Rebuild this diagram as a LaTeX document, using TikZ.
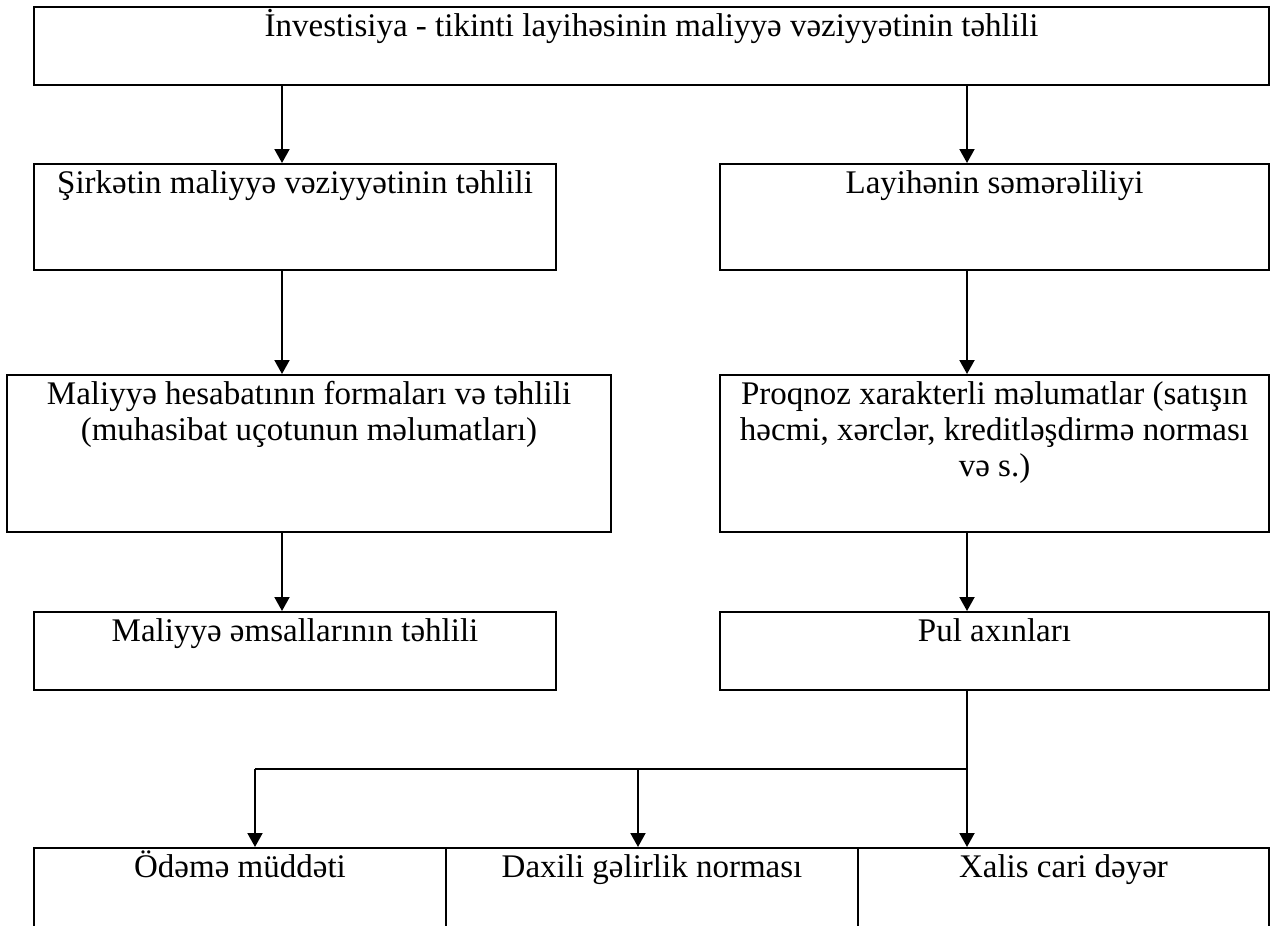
\documentclass[tikz,border=0pt]{standalone}
\usepackage{fontspec}
\setmainfont{Liberation Serif}
\usetikzlibrary{arrows.meta,positioning,fit}
\newcommand{\tstrut}{\rule{0pt}{15pt}}

\begin{document}
\begin{tikzpicture}[x=0.5pt, y=-0.5pt,
    box/.style={draw, line width=1pt, inner sep=0pt},
    txt/.style={anchor=north, align=center, inner sep=0pt, font=\fontsize{16.5}{18}\selectfont},
    arr/.style={line width=1pt, -{Triangle[width=7.5pt,length=7pt]}}]
    \clip (0,0) rectangle (1281,926);
    \coordinate (colL) at (282,0);
    \coordinate (colR) at (967,0);
    \node [box, fit={(34,7) (1269,85)}] (main) {};
    \node [box, fit={(34,164) (556,270)}] (firm) {};
    \node [box, fit={(720,164) (1269,270)}] (eff) {};
    \node [box, fit={(7,375) (611,532)}] (report) {};
    \node [box, fit={(720,375) (1269,532)}] (forecast) {};
    \node [box, fit={(34,612) (556,690)}] (ratios) {};
    \node [box, fit={(720,612) (1269,690)}] (cash) {};
    \node [box, fit={(34,848) (446,960)}] (payback) {};
    \node [box, fit={(446,848) (858,960)}] (irr) {};
    \node [box, fit={(858,848) (1269,960)}] (npv) {};
    \node [txt] (main-t) at (main.north) {\tstrut İnvestisiya - tikinti layihəsinin maliyyə vəziyyətinin təhlili};
    \node [txt] (firm-t) at (firm.north) {\tstrut Şirkətin maliyyə vəziyyətinin təhlili};
    \node [txt] (eff-t) at (eff.north) {\tstrut Layihənin səmərəliliyi};
    \node [txt] (report-t) at (report.north) {\tstrut Maliyyə hesabatının formaları və təhlili\\(muhasibat uçotunun məlumatları)};
    \node [txt] (forecast-t) at (forecast.north) {\tstrut Proqnoz xarakterli məlumatlar (satışın\\həcmi, xərclər, kreditləşdirmə norması\\və s.)};
    \node [txt] (ratios-t) at (ratios.north) {\tstrut Maliyyə əmsallarının təhlili};
    \node [txt] (cash-t) at (cash.north) {\tstrut Pul axınları};
    \node [txt] (payback-t) at (payback.north) {\tstrut Ödəmə müddəti};
    \node [txt] (irr-t) at (irr.north) {\tstrut Daxili gəlirlik norması};
    \node [txt] (npv-t) at (npv.north) {\tstrut Xalis cari dəyər};
    \draw [arr] (main.south -| colL) -- (firm.north -| colL);
    \draw [arr] (main.south -| colR) -- (eff.north -| colR);
    \draw [arr] (firm.south -| colL) -- (report.north -| colL);
    \draw [arr] (eff.south -| colR) -- (forecast.north -| colR);
    \draw [arr] (report.south -| colL) -- (ratios.north -| colL);
    \draw [arr] (forecast.south -| colR) -- (cash.north -| colR);
    \coordinate (split) at (967,769);
    \coordinate (br1) at (255,769);
    \coordinate (br2) at (638,769);
    \draw [arr] (cash.south -| colR) -- (npv.north -| colR);
    \draw [line width=1pt] (split) -- (br1);
    \draw [arr] (br1) -- (payback.north -| br1);
    \draw [arr] (br2) -- (irr.north -| br2);
\end{tikzpicture}
\end{document}
